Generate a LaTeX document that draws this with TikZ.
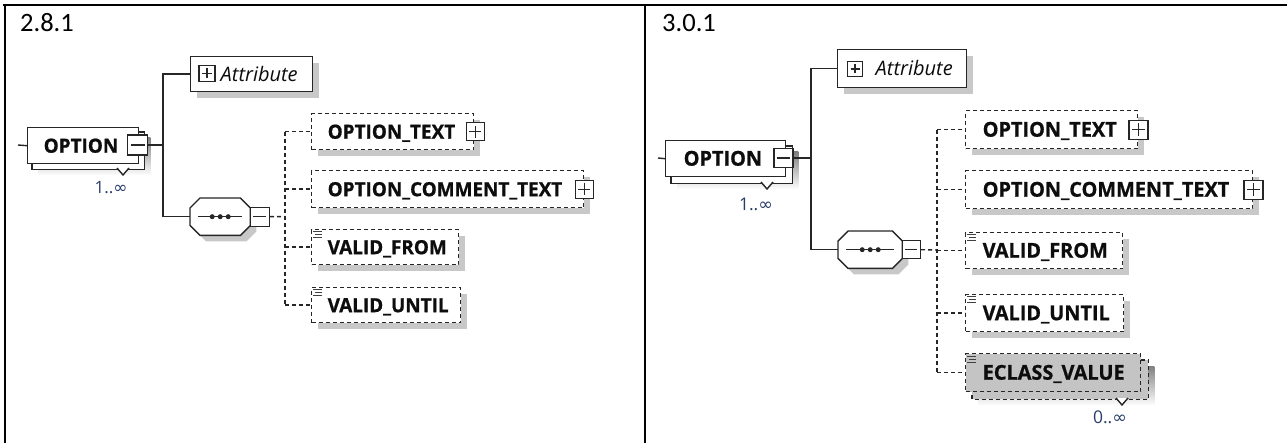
\documentclass[tikz,border=0pt]{standalone}
\usepackage{fontspec}
\setmainfont{Open Sans}
\newfontfamily\elfont{Open Sans}[FakeStretch=0.97, BoldFeatures={FakeBold=0.8}]
\newfontfamily\headfont{Carlito}
\newfontfamily\symfont{DejaVu Sans}
\usetikzlibrary{shadows,backgrounds}

% label of fixed width with a left pad
\newcommand\lbl[3]{\makebox[#1pt][l]{\hspace*{#2pt}#3}}
\newcommand\elL{\elfont\fontsize{19.5}{21}\selectfont\bfseries}
\newcommand\elR{\elfont\fontsize{20.5}{22}\selectfont\bfseries}
\newcommand\atL{\fontsize{20}{22}\selectfont\itshape}
\newcommand\atR{\fontsize{20}{22}\selectfont\itshape}
\newcommand\infsym{{\symfont\char"221E}}

\definecolor{multc}{RGB}{40,62,104}
\definecolor{shade}{RGB}{200,200,200}
\definecolor{greyfill}{RGB}{196,196,196}

\tikzset{
  ink/.style={draw=black!85, line width=1.4pt},
  solidline/.style={ink},
  dashline/.style={ink, dash pattern=on 4pt off 3pt},
  frameline/.style={draw=black, line width=2pt},
  boxshadow/.style={drop shadow={shadow xshift=6pt, shadow yshift=-6pt, fill=shade, opacity=1}},
  elbox/.style={ink, fill=white, rectangle, inner sep=0pt, anchor=north west,
    text=black!95, text height=14pt, text depth=0pt},
  optbox/.style={elbox, dash pattern=on 4pt off 3pt},
  seqbox/.style={rectangle, inner sep=0pt, anchor=north west},
  pmsq/.style={draw=black!85, fill=white, line width=1.2pt, minimum size=#1, inner sep=0pt, rectangle},
  minus/.style={pmsq=#1, path picture={
    \draw[line width=1.2pt, black!85] ([xshift=3pt]path picture bounding box.west) -- ([xshift=-3pt]path picture bounding box.east);}},
  plus/.style={pmsq=#1, path picture={
    \draw[line width=1.2pt, black!85] ([xshift=3pt]path picture bounding box.west) -- ([xshift=-3pt]path picture bounding box.east);
    \draw[line width=1.2pt, black!85] ([yshift=-3pt]path picture bounding box.north) -- ([yshift=3pt]path picture bounding box.south);}},
  multtext/.style={text=multc, inner sep=0pt},
  head/.style={inner sep=0pt, anchor=base west, font=\headfont\fontsize{26.5}{29}\selectfont},
}

% sequence compositor: octagon with a dotted bar
\newcommand\seqshape[1]{%
  \draw[ink, fill=white, boxshadow] ([xshift=10pt]#1.north west) -- ([xshift=-10pt]#1.north east)
    -- ([yshift=-10pt]#1.north east) -- ([yshift=10pt]#1.south east)
    -- ([xshift=-10pt]#1.south east) -- ([xshift=10pt]#1.south west)
    -- ([yshift=10pt]#1.south west) -- ([yshift=-10pt]#1.north west) -- cycle;
  \draw[ink] ([xshift=8pt]#1.west) -- ([xshift=-8pt]#1.east);
  \foreach \d in {-8,0,8} \fill[black!85] ([xshift=\d pt]#1.center) circle (2.5pt);
}
% simple-type marker in the top left corner of an element
\newcommand\simpleicon[1]{%
  \draw[black!75, line width=1pt] ([shift={(2,3)}]#1.north west) -- ++(9,0)
    ([shift={(4,6)}]#1.north west) -- ++(7,0)
    ([shift={(2,9)}]#1.north west) -- ++(9,0);}
% copy of a repeated element with its shadow, behind it
\newcommand\stackback[3]{%
  \begin{pgfonlayer}{background}
    \fill[shade] ([shift={(#2+6,#2+6)}]#1.north west) rectangle ([shift={(#2+6,#2+6)}]#1.south east);
    \draw[ink, fill=#3] ([shift={(#2,#2)}]#1.north west) rectangle ([shift={(#2,#2)}]#1.south east);
  \end{pgfonlayer}}

\begin{document}
\begin{tikzpicture}[x=1pt, y=-1pt]
\useasboundingbox (0,0) rectangle (1287,443);

% table frame
\draw[frameline] (3,5.5) -- (1287,5.5);
\draw[frameline] (4.5,5) -- (4.5,443);
\draw[frameline] (645,5) -- (645,443);

% ---------------- version 2.8.1 ----------------
\node[head] (hL) at (20,32) {2.8.1};

\node[elbox, minimum height=36] (optL) at (27,127) {\lbl{111}{16}{\elL OPTION}};
\stackback{optL}{5}{white}
\node[minus=20] (optsqL) at (137.5,145) {};
\draw[ink, fill=white] (117,168) -- (123,175) -- (129,168);
\node[multtext, font=\fontsize{17}{19}\selectfont] (mL) at (111,188) {1..\infsym};

\node[elbox, boxshadow, minimum height=35] (attrL) at (190,56) {\lbl{122}{30}{\atL Attribute}};
\node[plus=16] (attrpL) at (207,73.5) {};

\node[seqbox, minimum width=60, minimum height=37] (seqL) at (190,198) {};
\seqshape{seqL}
\node[minus=19] (seqsqL) at ([xshift=9.5pt]seqL.east) {};

\node[optbox, boxshadow, minimum height=36] (otL) at (311,113) {\lbl{162}{16}{\elL OPTION\_TEXT}};
\node[plus=18] (otpL) at ([xshift=1pt]otL.east) {};
\node[optbox, boxshadow, minimum height=37] (ocL) at (311,170) {\lbl{272}{16}{\elL OPTION\_COMMENT\_TEXT}};
\node[plus=18] (ocpL) at (ocL.east) {};
\node[optbox, boxshadow, minimum height=35] (vfL) at (311,229) {\lbl{147}{16}{\elL VALID\_FROM}};
\simpleicon{vfL}
\node[optbox, boxshadow, minimum height=35] (vuL) at (311,287) {\lbl{149}{16}{\elL VALID\_UNTIL}};
\simpleicon{vuL}

\coordinate (inL) at (18,145);
\coordinate (busL) at (163,145);
\coordinate (dbusL) at (285,216.5);
\draw[solidline] (inL) -- (optL.west);
\draw[solidline] (optsqL.east) -- (busL);
\draw[solidline] (attrL.west) -| (busL);
\draw[solidline] (seqL.west) -| (busL);
\draw[dashline] (seqsqL.east) -- (dbusL);
\draw[dashline] (dbusL |- otL.west) -- (dbusL |- vuL.west);
\foreach \b in {otL,ocL,vfL,vuL} \draw[dashline] (dbusL |- \b.west) -- (\b.west);

% ---------------- version 3.0.1 ----------------
\node[head] (hR) at (662,32) {3.0.1};

\node[elbox, minimum height=36] (optR) at (665,140) {\lbl{120}{18}{\elR OPTION}};
\stackback{optR}{6}{white}
\node[minus=19] (optsqR) at (783.5,158) {};
\draw[ink, fill=white] (761,182) -- (767,189) -- (773,182);
\node[multtext, font=\fontsize{17.5}{19}\selectfont] (mR) at (756,204) {1..\infsym};

\node[elbox, boxshadow, minimum height=38] (attrR) at (837,49) {\lbl{129}{38}{\atR Attribute}};
\node[plus=15] (attrpR) at (855,69) {};

\node[seqbox, minimum width=64, minimum height=37] (seqR) at (838,231) {};
\seqshape{seqR}
\node[minus=18] (seqsqR) at ([xshift=9pt]seqR.east) {};

\node[optbox, boxshadow, minimum height=38] (otR) at (965,110) {\lbl{172}{17}{\elR OPTION\_TEXT}};
\node[plus=19] (otpR) at (otR.east) {};
\node[optbox, boxshadow, minimum height=38] (ocR) at (965,170) {\lbl{287}{17}{\elR OPTION\_COMMENT\_TEXT}};
\node[plus=19] (ocpR) at (ocR.east) {};
\node[optbox, boxshadow, minimum height=36] (vfR) at (965,232) {\lbl{157}{17}{\elR VALID\_FROM}};
\simpleicon{vfR}
\node[optbox, boxshadow, minimum height=37] (vuR) at (965,294) {\lbl{158}{17}{\elR VALID\_UNTIL}};
\simpleicon{vuR}
\node[optbox, fill=greyfill, minimum height=38] (ecR) at (965,353) {\lbl{175}{17}{\elR ECLASS\_VALUE}};
\simpleicon{ecR}
\begin{pgfonlayer}{background}
  \fill[shade] ([shift={(13,13)}]ecR.north west) rectangle ([shift={(13,13)}]ecR.south east);
  \draw[dashline, fill=greyfill] ([shift={(7,7)}]ecR.north west) rectangle ([shift={(7,7)}]ecR.south east);
\end{pgfonlayer}
\draw[ink, fill=white] (1116,398) -- (1122,405) -- (1128,398);
\node[multtext, font=\fontsize{17.5}{19}\selectfont] (mR2) at (1110,417) {0..\infsym};

\coordinate (inR) at (658,158);
\coordinate (busR) at (811,158);
\coordinate (dbusR) at (937,250);
\draw[solidline] (inR) -- (optR.west);
\draw[solidline] (optsqR.east) -- (busR);
\draw[solidline] (attrR.west) -| (busR);
\draw[solidline] (seqR.west) -| (busR);
\draw[dashline] (seqsqR.east) -- (dbusR);
\draw[dashline] (dbusR |- otR.west) -- (dbusR |- ecR.west);
\foreach \b in {otR,ocR,vfR,vuR,ecR} \draw[dashline] (dbusR |- \b.west) -- (\b.west);
\end{tikzpicture}
\end{document}
